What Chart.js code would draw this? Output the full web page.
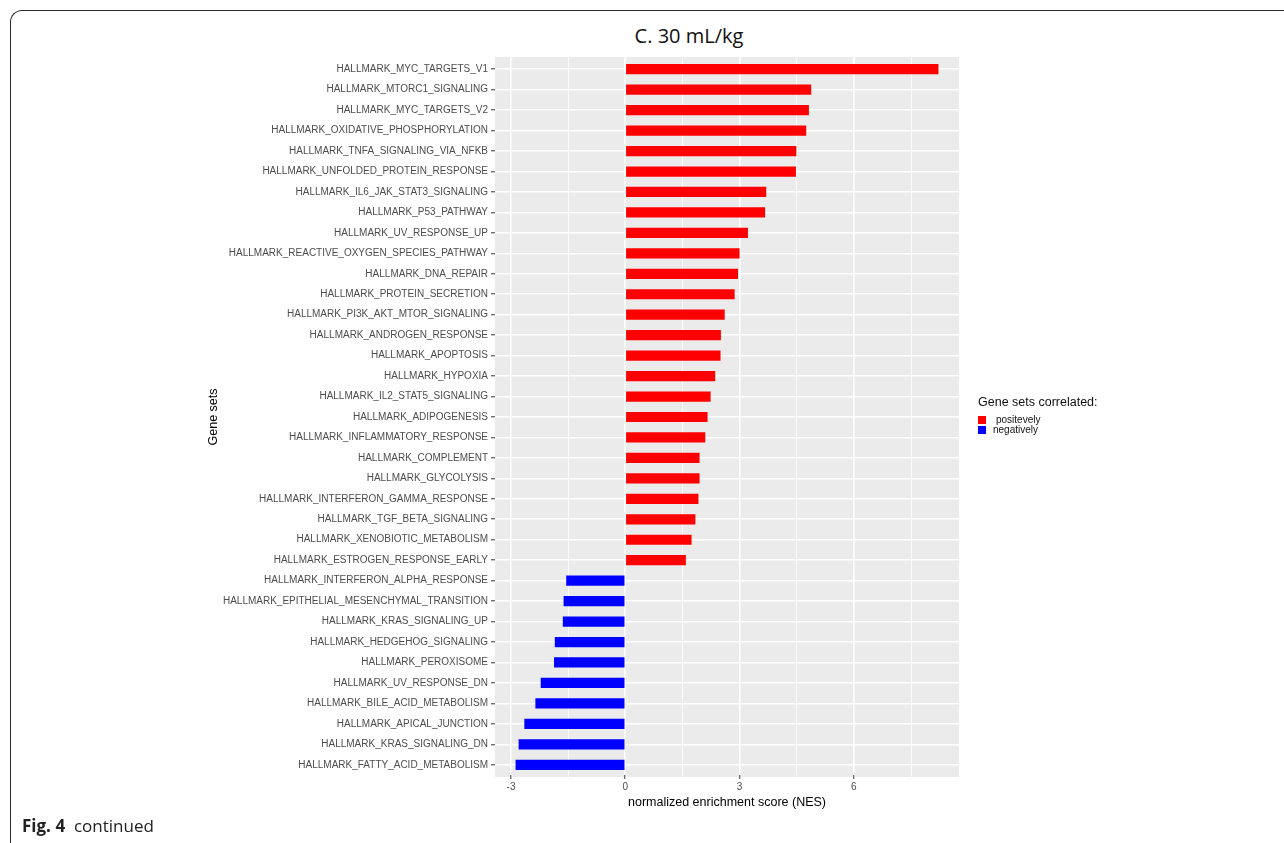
<!DOCTYPE html>
<html>
<head>
<meta charset="utf-8">
<title>C. 30 mL/kg</title>
<script src="https://cdn.jsdelivr.net/npm/chart.js@4.4.1/dist/chart.umd.min.js"></script>
<style>
    body { margin: 0; width: 1284px; height: 843px; overflow: hidden; position: relative; background: #fff; }
    #frame {
        position: absolute; left: 10px; top: 10px; width: 1320px; height: 900px;
        border-left: 1.5px solid #2b2b2b; border-top: 1.5px solid #2b2b2b; border-top-left-radius: 12px;
    }
    #chart { position: absolute; left: 0; top: 0; }
    #title {
        position: absolute; left: 589px; top: 22px; width: 200px; text-align: center;
        font-family: 'Open Sans', 'Noto Sans', sans-serif; font-size: 20px; color: #111;
    }
    #legend { position: absolute; left: 978px; top: 395px; font-family: 'Liberation Sans', Arial, sans-serif; color: #111; }
    #legend .lt { font-size: 12.5px; line-height: 15px; margin-bottom: 6px; }
    #legend .item { position: relative; height: 10px; font-size: 10px; line-height: 10px; }
    #legend .key { position: absolute; left: 0; top: 0; width: 8px; height: 8px; }
    #legend .lbl { position: absolute; top: -1px; }
    #caption {
        position: absolute; left: 22px; top: 814px;
        font-family: 'Open Sans', 'Noto Sans', sans-serif; font-size: 17px; color: #222;
    }
</style>
</head>
<body>
<div id="frame"></div>
<div id="title">C. 30 mL/kg</div>
<canvas id="chart" width="1284" height="843"></canvas>
<div id="legend"></div>
<div id="caption"><b>Fig. 4</b>&nbsp; continued</div>
<script>
const geneSets = [
    'HALLMARK_MYC_TARGETS_V1', 'HALLMARK_MTORC1_SIGNALING', 'HALLMARK_MYC_TARGETS_V2',
    'HALLMARK_OXIDATIVE_PHOSPHORYLATION', 'HALLMARK_TNFA_SIGNALING_VIA_NFKB', 'HALLMARK_UNFOLDED_PROTEIN_RESPONSE',
    'HALLMARK_IL6_JAK_STAT3_SIGNALING', 'HALLMARK_P53_PATHWAY', 'HALLMARK_UV_RESPONSE_UP',
    'HALLMARK_REACTIVE_OXYGEN_SPECIES_PATHWAY', 'HALLMARK_DNA_REPAIR', 'HALLMARK_PROTEIN_SECRETION',
    'HALLMARK_PI3K_AKT_MTOR_SIGNALING', 'HALLMARK_ANDROGEN_RESPONSE', 'HALLMARK_APOPTOSIS',
    'HALLMARK_HYPOXIA', 'HALLMARK_IL2_STAT5_SIGNALING', 'HALLMARK_ADIPOGENESIS',
    'HALLMARK_INFLAMMATORY_RESPONSE', 'HALLMARK_COMPLEMENT', 'HALLMARK_GLYCOLYSIS',
    'HALLMARK_INTERFERON_GAMMA_RESPONSE', 'HALLMARK_TGF_BETA_SIGNALING', 'HALLMARK_XENOBIOTIC_METABOLISM',
    'HALLMARK_ESTROGEN_RESPONSE_EARLY', 'HALLMARK_INTERFERON_ALPHA_RESPONSE', 'HALLMARK_EPITHELIAL_MESENCHYMAL_TRANSITION',
    'HALLMARK_KRAS_SIGNALING_UP', 'HALLMARK_HEDGEHOG_SIGNALING', 'HALLMARK_PEROXISOME',
    'HALLMARK_UV_RESPONSE_DN', 'HALLMARK_BILE_ACID_METABOLISM', 'HALLMARK_APICAL_JUNCTION',
    'HALLMARK_KRAS_SIGNALING_DN', 'HALLMARK_FATTY_ACID_METABOLISM'
];
const nes = [
    8.22, 4.88, 4.82, 4.75, 4.49, 4.48, 3.70, 3.67, 3.22, 3.00, 2.96, 2.87,
    2.61, 2.51, 2.50, 2.36, 2.24, 2.16, 2.10, 1.95, 1.95, 1.92, 1.84, 1.74, 1.59,
    -1.55, -1.62, -1.64, -1.85, -1.87, -2.22, -2.36, -2.65, -2.80, -2.88
];
const majorTicks = [-3, 0, 3, 6];
const minorTicks = [-1.5, 1.5, 4.5, 7.5];
const legendLabels = ['positevely', 'negatively'];
const legendColors = ['#FF0000', '#0000FF'];

// legend (html)
const legendEl = document.getElementById('legend');
legendEl.innerHTML = '<div class="lt">Gene sets correlated:</div>' + legendLabels.map((l, i) =>
    `<div class="item"><span class="key" style="background:${legendColors[i]}"></span>` +
    `<span class="lbl" style="left:${i === 0 ? 18 : 15}px">${l}</span></div>`).join('');

const isMajor = v => majorTicks.includes(v);

// grey panel, a little taller than the chart area (ggplot pads discrete axes by 0.6)
const PANEL_EXTRA = 2;
const panelBg = {
    id: 'panelBg',
    beforeDraw(chart) {
        const a = chart.chartArea;
        const ctx = chart.ctx;
        const x = chart.scales.x;
        ctx.save();
        ctx.fillStyle = '#EBEBEB';
        ctx.fillRect(a.left, a.top - PANEL_EXTRA, a.right - a.left, a.bottom - a.top + PANEL_EXTRA * 2);
        ctx.strokeStyle = '#FFFFFF';
        x.ticks.forEach(t => {
            const px = Math.round(x.getPixelForValue(t.value)) + 0.5;
            ctx.lineWidth = isMajor(t.value) ? 1.6 : 0.8;
            ctx.beginPath();
            ctx.moveTo(px, a.top - PANEL_EXTRA);
            ctx.lineTo(px, a.top);
            ctx.moveTo(px, a.bottom);
            ctx.lineTo(px, a.bottom + PANEL_EXTRA);
            ctx.stroke();
        });
        ctx.restore();
    }
};

const axisFont = { family: "'Liberation Sans', Arial, sans-serif", size: 10 };
const titleFont = { family: "'Liberation Sans', Arial, sans-serif", size: 12.5 };

new Chart(document.getElementById('chart'), {
    type: 'bar',
    data: {
        labels: geneSets,
        datasets: [{
            data: nes,
            backgroundColor: nes.map(v => v > 0 ? legendColors[0] : legendColors[1]),
            borderWidth: 0,
            categoryPercentage: 1,
            barPercentage: 0.5
        }]
    },
    options: {
        indexAxis: 'y',
        responsive: false,
        animation: false,
        devicePixelRatio: 1,
        layout: { padding: { left: 202, top: 59, right: 325, bottom: 29 } },
        plugins: {
            legend: { display: false },
            tooltip: { enabled: false }
        },
        scales: {
            x: {
                type: 'linear',
                min: -3.42,
                max: 8.76,
                afterBuildTicks: scale => {
                    scale.ticks = majorTicks.concat(minorTicks).sort((a, b) => a - b).map(v => ({ value: v }));
                },
                ticks: {
                    autoSkip: false,
                    maxRotation: 0,
                    padding: 2,
                    color: '#4D4D4D',
                    font: axisFont,
                    callback: v => isMajor(v) ? String(v) : ''
                },
                grid: {
                    color: '#FFFFFF',
                    lineWidth: ctx => isMajor(ctx.tick.value) ? 1.6 : 0.8,
                    tickColor: ctx => isMajor(ctx.tick.value) ? '#333333' : 'rgba(0,0,0,0)',
                    tickLength: 4,
                    tickWidth: 1
                },
                border: { display: false },
                title: {
                    display: true,
                    text: 'normalized enrichment score (NES)',
                    color: '#000',
                    font: titleFont,
                    padding: { top: 0, bottom: 4 }
                }
            },
            y: {
                offset: true,
                afterFit: scale => { scale.width = 293; },
                ticks: {
                    autoSkip: false,
                    padding: 3,
                    color: '#4D4D4D',
                    font: axisFont
                },
                grid: {
                    offset: false,
                    color: '#FFFFFF',
                    lineWidth: 1.6,
                    tickColor: '#333333',
                    tickLength: 4,
                    tickWidth: 1
                },
                border: { display: false },
                title: {
                    display: true,
                    text: 'Gene sets',
                    color: '#000',
                    font: titleFont
                }
            }
        }
    },
    plugins: [panelBg]
});
</script>
</body>
</html>
